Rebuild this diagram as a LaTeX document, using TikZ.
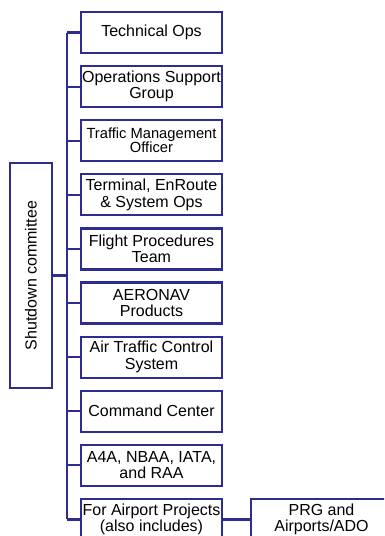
\documentclass[tikz,border=0pt]{standalone}
\usepackage{fontspec}
\setmainfont{Liberation Sans}
\usepackage{tikz}
\definecolor{navy}{RGB}{45,45,145}
\tikzstyle{unit} = [draw=navy, line width=2.2pt, minimum width=141pt, minimum height=41pt, inner sep=0pt, align=center, font=\fontsize{16}{16.5}\selectfont]
\tikzstyle{link} = [draw=navy, line width=2.2pt]

\begin{document}
\begin{tikzpicture}[x=1pt,y=-1pt]
\useasboundingbox (0,0) rectangle (384,536);
\clip (0,0) rectangle (384,536);
\node[unit, minimum width=42pt, minimum height=225pt] (committee) at (31,275.5) {};
\node[rotate=90, font=\fontsize{16}{16.5}\selectfont] (committeetext) at (committee.center) {Shutdown committee};
\coordinate (spine) at (67,0);
\node[unit] (tech) at (151.5,32.5) {Technical Ops};
\node[unit] (opsup) at (151.5,86.6) {Operations Support\\Group};
\node[unit, font=\fontsize{14.7}{14}\selectfont] (tmo) at (151.5,140.7) {Traffic Management\\Officer};
\node[unit] (terminal) at (151.5,194.8) {Terminal, EnRoute\\\& System Ops};
\node[unit] (flight) at (151.5,248.9) {Flight Procedures\\Team};
\node[unit] (aeronav) at (151.5,303.0) {AERONAV\\Products};
\node[unit] (atc) at (151.5,357.1) {Air Traffic Control\\System};
\node[unit] (command) at (151.5,411.2) {Command Center};
\node[unit] (assoc) at (151.5,465.3) {A4A, NBAA, IATA,\\and RAA};
\node[unit] (airport) at (151.5,519.4) {For Airport Projects\\(also includes)};
\node[unit] (prg) at (321.5,519.4) {PRG and\\Airports/ADO};
% spine and branches
\draw[link] (tech.west -| spine) -- (airport.west -| spine);
\draw[link] (committee.east) -- (committee.east -| spine);
\draw[link] (tech.west) -- (tech.west -| spine);
\draw[link] (opsup.west) -- (opsup.west -| spine);
\draw[link] (tmo.west) -- (tmo.west -| spine);
\draw[link] (terminal.west) -- (terminal.west -| spine);
\draw[link] (flight.west) -- (flight.west -| spine);
\draw[link] (aeronav.west) -- (aeronav.west -| spine);
\draw[link] (atc.west) -- (atc.west -| spine);
\draw[link] (command.west) -- (command.west -| spine);
\draw[link] (assoc.west) -- (assoc.west -| spine);
\draw[link] (airport.west) -- (airport.west -| spine);
\draw[link] (airport.east) -- (prg.west);
\end{tikzpicture}
\end{document}
